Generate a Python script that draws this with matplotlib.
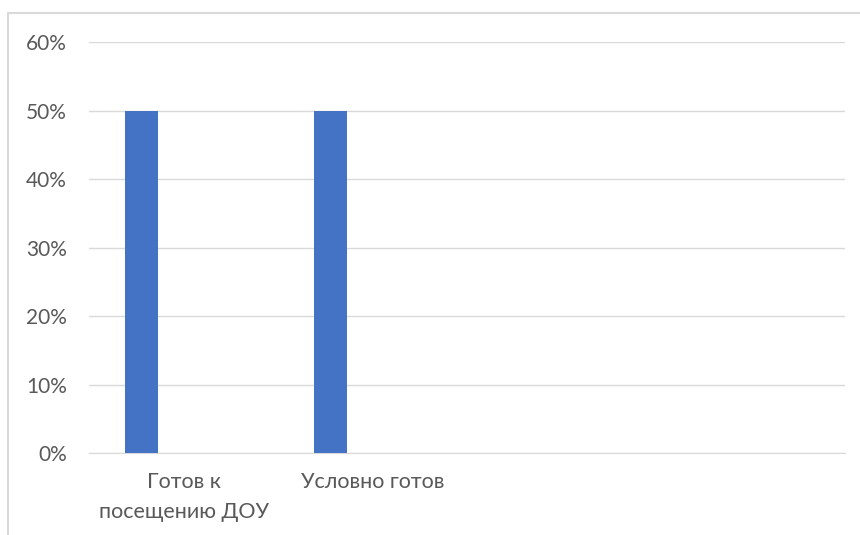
import matplotlib
matplotlib.use('Agg')
import matplotlib.pyplot as plt
import numpy as np
from matplotlib.patches import Rectangle

categories = ['Готов к\nпосещению ДОУ', 'Условно готов', '', '']
values = [0.50, 0.50, np.nan, np.nan]
y_ticks = [0.0, 0.1, 0.2, 0.3, 0.4, 0.5, 0.6]

plt.rcParams['font.family'] = ['Lato', 'DejaVu Sans']

fig = plt.figure(figsize=(8.6, 5.35), dpi=100)
fig.patches.append(Rectangle((0.0093, -0.1), 1.2, 1.0757, transform=fig.transFigure,
                             fill=False, edgecolor='#d9d9d9', linewidth=1.5))
ax = fig.add_axes([0.1035, 0.1533, 0.879, 0.768])

positions = np.arange(len(categories))
ax.bar(positions - 0.222, values, width=0.175, color='#4472c4', zorder=3)

ax.set_xlim(-0.5, len(categories) - 0.5)
ax.set_ylim(0, 0.6)
ax.set_yticks(y_ticks)
ax.set_yticklabels(['{:.0f}%'.format(v * 100) for v in y_ticks])
ax.set_xticks(positions)
ax.set_xticklabels(categories, linespacing=1.6)

ax.grid(axis='y', color='#d9d9d9', linewidth=1)
for side in ['top', 'right', 'left']:
    ax.spines[side].set_visible(False)
ax.spines['bottom'].set_color('#d9d9d9')
ax.tick_params(axis='both', length=0, labelcolor='#595959')
ax.tick_params(axis='x', pad=14, labelsize=15.5)
ax.tick_params(axis='y', pad=16, labelsize=15)

plt.savefig('out.png')
